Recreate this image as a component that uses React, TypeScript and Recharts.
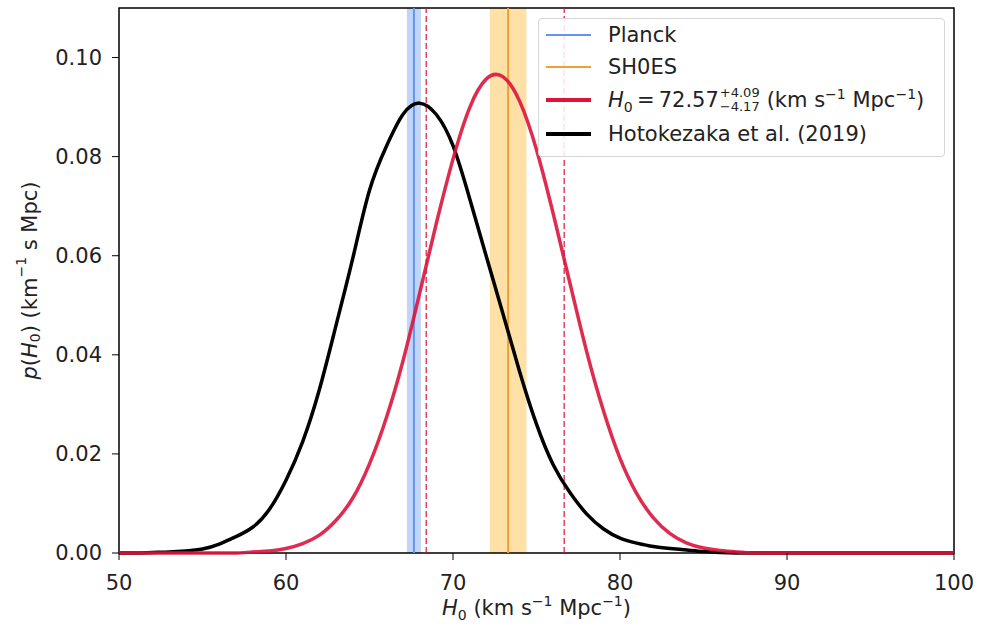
import React from "react"
import {
  LineChart,
  Line,
  XAxis,
  YAxis,
  ReferenceArea,
  ReferenceLine,
  Legend,
} from "recharts"

// H0 grid (km/s/Mpc)
const h0Grid = [
  50, 51, 52, 53, 54, 55, 56, 57, 58, 59, 60, 61, 62, 63, 64, 65, 66, 67, 68, 69, 70,
  71, 72, 73, 74, 75, 76, 77, 78, 79, 80, 81, 82, 83, 84, 85, 86, 87, 88, 89, 90,
  91, 92, 93, 94, 95, 96, 97, 98, 99, 100,
]

// posterior from this work (red)
const thisWork = [
  0, 0, 0, 0, 0, 0, 0, 0, 0.0002, 0.0004, 0.0009, 0.0019, 0.0036, 0.0066, 0.0111, 0.018,
  0.0272, 0.0387, 0.0524, 0.0665, 0.0795, 0.0899, 0.0957, 0.0961, 0.0911, 0.0814, 0.0685,
  0.0545, 0.0407, 0.0288, 0.0191, 0.012, 0.0071, 0.0039, 0.002, 0.001, 0.0005, 0.0002,
  0, 0, 0, 0, 0, 0, 0, 0, 0, 0, 0, 0, 0,
]

// Hotokezaka et al. (2019) (black)
const hotokezaka = [
  0, 0, 0.0001, 0.0002, 0.0004, 0.0008, 0.0018, 0.0033, 0.0052, 0.0088, 0.0147, 0.0225,
  0.033, 0.046, 0.0595, 0.0732, 0.082, 0.0885, 0.0908, 0.0885, 0.0822, 0.0715, 0.0598,
  0.0482, 0.0365, 0.026, 0.0178, 0.0122, 0.0079, 0.0049, 0.003, 0.002, 0.0013, 0.0009,
  0.0006, 0.0003, 0.0001, 0, 0, 0, 0, 0, 0, 0, 0, 0, 0, 0, 0, 0, 0,
]

const xTicks = [50, 60, 70, 80, 90, 100]
const yTicks = [0, 0.02, 0.04, 0.06, 0.08, 0.1]

// Planck and SH0ES: [low, central, high]
const planck = [67.24, 67.66, 68.08]
const shoes = [72.2, 73.3, 74.4]
// 68% interval of this work
const credible = [68.4, 76.66]

const data = h0Grid.map((h, i) => ({ h, red: thisWork[i], black: hotokezaka[i] }))

const FONT = "'DejaVu Sans', sans-serif"
const TXT = "#222"
const CRIMSON = "#DC143C"
const BLUE = "#6495ED"
const ORANGE = "#F0A030"

const YLabel = ({ viewBox }: any) => {
  const cx = 30
  const cy = viewBox.y + viewBox.height / 2
  return (
    <text
      x={cx}
      y={cy}
      transform={`rotate(-90, ${cx}, ${cy})`}
      textAnchor="middle"
      dominantBaseline="central"
      fontFamily={FONT}
      fontSize={21}
      fill={TXT}
    >
      <tspan fontStyle="italic">p</tspan>(<tspan fontStyle="italic">H</tspan>
      <tspan fontSize={14} dy={5}>0</tspan>
      <tspan dy={-5}>) (km</tspan>
      <tspan fontSize={14} dy={-9}>−1</tspan>
      <tspan dy={9}> s Mpc)</tspan>
    </text>
  )
}

const XLabel = ({ viewBox }: any) => {
  const cx = viewBox.x + viewBox.width / 2
  return (
    <text x={cx} y={615} textAnchor="middle" fontFamily={FONT} fontSize={21} fill={TXT}>
      <tspan fontStyle="italic">H</tspan>
      <tspan fontSize={14} dy={5}>0</tspan>
      <tspan dy={-5}> (km s</tspan>
      <tspan fontSize={14} dy={-9}>−1</tspan>
      <tspan dy={9}> Mpc</tspan>
      <tspan fontSize={14} dy={-9}>−1</tspan>
      <tspan dy={9}>)</tspan>
    </text>
  )
}

const Swatch = ({ color, width }: { color: string; width: number }) => (
  <span
    style={{
      display: "inline-block",
      width: 45,
      height: width,
      background: color,
      marginRight: 17,
      verticalAlign: "middle",
      flexShrink: 0,
    }}
  />
)

const rowStyle: React.CSSProperties = {
  display: "flex",
  alignItems: "center",
  whiteSpace: "nowrap",
}

const LegendBox = () => (
  <div
    style={{
      width: 407,
      padding: "0 0 5px 7px",
      border: "1px solid #d6d6d6",
      borderRadius: 4,
      background: "rgba(255,255,255,0.85)",
      fontFamily: FONT,
      fontSize: 21,
      color: TXT,
      boxSizing: "border-box",
    }}
  >
    <div style={{ ...rowStyle, height: 32 }}>
      <Swatch color={BLUE} width={2} />
      Planck
    </div>
    <div style={{ ...rowStyle, height: 32 }}>
      <Swatch color={ORANGE} width={2} />
      SH0ES
    </div>
    <div style={{ ...rowStyle, height: 34 }}>
      <Swatch color={CRIMSON} width={4} />
      <span>
        <i>H</i>
        <sub style={{ fontSize: 14, lineHeight: 0 }}>0</sub>
        {"\u2009=\u200972.57"}
      </span>
      <span
        style={{
          display: "inline-flex",
          flexDirection: "column",
          fontSize: 13,
          lineHeight: "14px",
          margin: "0 7px 0 1px",
        }}
      >
        <span>+4.09</span>
        <span>−4.17</span>
      </span>
      <span>
        (km s<sup style={{ fontSize: 14, lineHeight: 0 }}>−1</sup> Mpc
        <sup style={{ fontSize: 14, lineHeight: 0 }}>−1</sup>)
      </span>
    </div>
    <div style={{ ...rowStyle, height: 34 }}>
      <Swatch color="#000" width={4} />
      Hotokezaka et al. (2019)
    </div>
  </div>
)

export default function App() {
  return (
    <div style={{ position: "absolute", left: 0, top: 0, background: "#fff" }}>
      <LineChart
        width={981}
        height={636}
        data={data}
        margin={{ top: 8, right: 27, left: 0, bottom: 0 }}
      >
        <XAxis
          dataKey="h"
          type="number"
          domain={[50, 100]}
          ticks={xTicks}
          height={83}
          tickSize={7}
          tickMargin={15}
          axisLine={false}
          tickLine={{ stroke: "#000" }}
          tick={{ fontFamily: FONT, fontSize: 21, fill: TXT }}
          label={<XLabel />}
        />
        <YAxis
          type="number"
          domain={[0, 0.11]}
          ticks={yTicks}
          width={119}
          tickSize={7}
          tickMargin={10}
          axisLine={false}
          tickLine={{ stroke: "#000" }}
          tickFormatter={(v: number) => v.toFixed(2)}
          tick={{ fontFamily: FONT, fontSize: 21, fill: TXT }}
          label={<YLabel />}
        />
        <ReferenceArea x1={planck[0]} x2={planck[2]} y1={0} y2={0.11} fill={BLUE} fillOpacity={0.4} stroke="none" />
        <ReferenceArea x1={shoes[0]} x2={shoes[2]} y1={0} y2={0.11} fill="#FFA500" fillOpacity={0.35} stroke="none" />
        <ReferenceLine x={planck[1]} stroke={BLUE} strokeWidth={2} />
        <ReferenceLine x={shoes[1]} stroke={ORANGE} strokeWidth={2} />
        {credible.map((c) => (
          <ReferenceLine key={c} x={c} stroke={CRIMSON} strokeWidth={1.5} strokeDasharray="6 3" strokeOpacity={0.8} />
        ))}
        <Line
          dataKey="black"
          type="natural"
          stroke="#000"
          strokeWidth={3.5}
          dot={false}
          isAnimationActive={false}
        />
        <Line
          dataKey="red"
          type="natural"
          stroke={CRIMSON}
          strokeWidth={3.5}
          strokeOpacity={0.9}
          dot={false}
          isAnimationActive={false}
        />
        <ReferenceArea
          x1={50}
          x2={100}
          y1={0}
          y2={0.11}
          fill="none"
          stroke="#000"
          strokeWidth={1.5}
        />
        <Legend
          layout="vertical"
          align="center"
          verticalAlign="middle"
          content={<LegendBox />}
          wrapperStyle={{ left: 538, top: 18, width: "auto" }}
        />
      </LineChart>
    </div>
  )
}
